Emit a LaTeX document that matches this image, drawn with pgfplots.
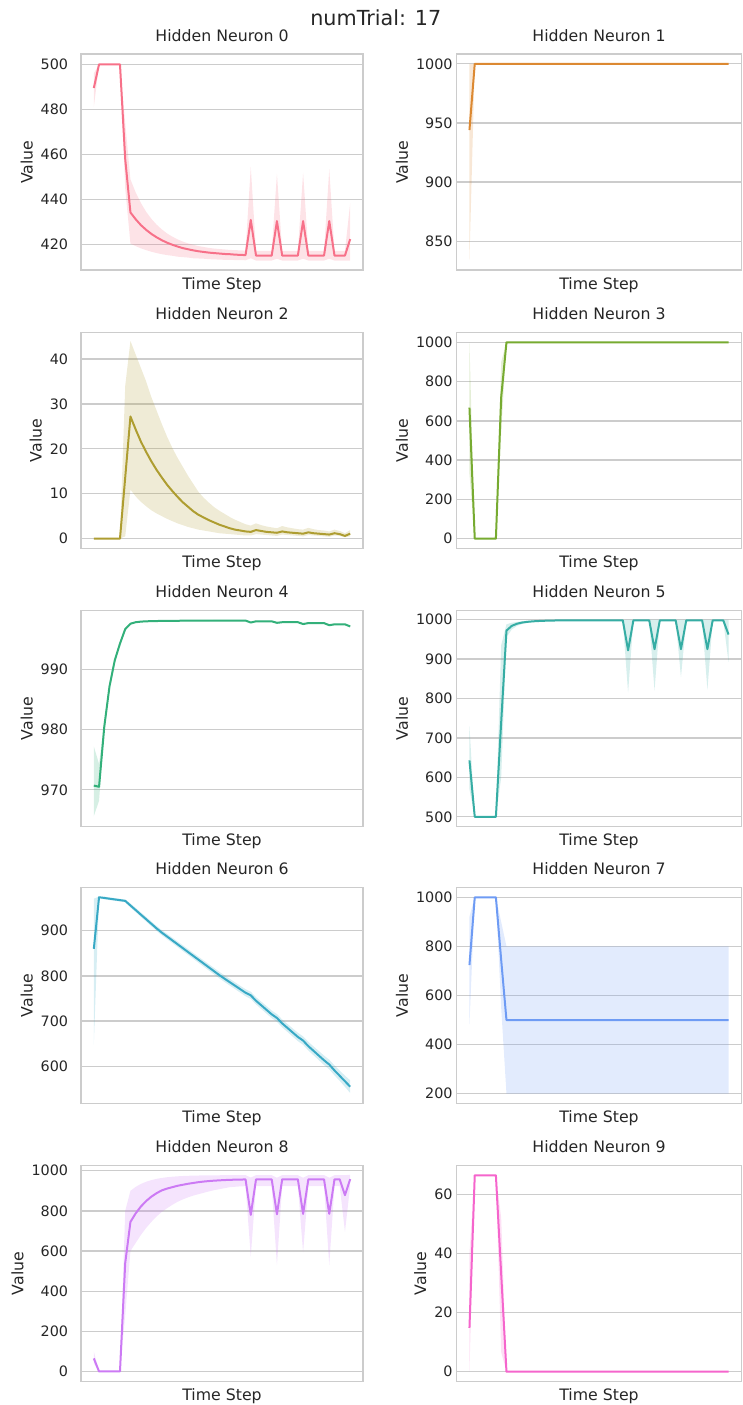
\documentclass[border=0pt]{standalone}
\usepackage{fontspec}
\setmainfont{DejaVu Sans}
\usepackage{pgfplots}
\pgfplotsset{compat=1.18}
\usepgfplotslibrary{fillbetween}
\usepackage{pgfplotstable}

\definecolor{c0}{HTML}{F77189}
\definecolor{c1}{HTML}{DC8932}
\definecolor{c2}{HTML}{AE9D31}
\definecolor{c3}{HTML}{77AB31}
\definecolor{c4}{HTML}{33B07A}
\definecolor{c5}{HTML}{36ADA4}
\definecolor{c6}{HTML}{38A9C5}
\definecolor{c7}{HTML}{6E9BF4}
\definecolor{c8}{HTML}{CC7AF4}
\definecolor{c9}{HTML}{F565CC}
\definecolor{gridc}{HTML}{CCCCCC}
\definecolor{textc}{HTML}{262626}

% Neuron 0
\pgfplotstableread{
x m l u
0 489.5 481 496
1 500 499.8 500
2 500 500 500
3 500 500 500
4 500 500 500
5 500 500 500
6 458 445 474
7 434.3 420.5 449
8 431.3 419.4 443.2
9 428.7 418.4 438.5
10 426.6 417.6 434.6
11 424.8 416.9 431.5
12 423.3 416.3 428.9
13 422.0 415.8 426.8
14 420.9 415.4 425.0
15 420.0 415.1 423.6
16 419.2 414.7 422.4
17 418.5 414.5 421.4
18 418.0 414.3 420.6
19 417.5 414.0 420.0
20 417.1 413.9 419.4
21 416.8 413.8 419.0
22 416.5 413.6 418.6
23 416.3 413.5 418.3
24 416.1 413.4 418.1
25 415.9 413.3 417.9
26 415.8 413.3 417.7
27 415.6 413.2 417.6
28 415.5 413.2 417.5
29 415.4 413.1 417.4
30 431 414 454.5
31 415.2 413 417.3
32 415.2 413 417.3
33 415.2 413 417.3
34 415.2 413 417.3
35 430.5 413.8 451.5
36 415.2 413 417.3
37 415.2 413 417.3
38 415.2 413 417.3
39 415.2 413 417.3
40 430.5 413.8 452
41 415.2 413 417.3
42 415.2 413 417.3
43 415.2 413 417.3
44 415.2 413 417.3
45 430.5 413.8 453.5
46 415.2 413 417.3
47 415.2 413 417.3
48 415.2 413 417.3
49 422.5 413 438.5
}\neurA

% Neuron 1
\pgfplotstableread{
x m l u
0 944 834 1000
1 1000 1000 1000
2 1000 1000 1000
3 1000 1000 1000
4 1000 1000 1000
5 1000 1000 1000
6 1000 1000 1000
7 1000 1000 1000
8 1000 1000 1000
9 1000 1000 1000
10 1000 1000 1000
11 1000 1000 1000
12 1000 1000 1000
13 1000 1000 1000
14 1000 1000 1000
15 1000 1000 1000
16 1000 1000 1000
17 1000 1000 1000
18 1000 1000 1000
19 1000 1000 1000
20 1000 1000 1000
21 1000 1000 1000
22 1000 1000 1000
23 1000 1000 1000
24 1000 1000 1000
25 1000 1000 1000
26 1000 1000 1000
27 1000 1000 1000
28 1000 1000 1000
29 1000 1000 1000
30 1000 1000 1000
31 1000 1000 1000
32 1000 1000 1000
33 1000 1000 1000
34 1000 1000 1000
35 1000 1000 1000
36 1000 1000 1000
37 1000 1000 1000
38 1000 1000 1000
39 1000 1000 1000
40 1000 1000 1000
41 1000 1000 1000
42 1000 1000 1000
43 1000 1000 1000
44 1000 1000 1000
45 1000 1000 1000
46 1000 1000 1000
47 1000 1000 1000
48 1000 1000 1000
49 1000 1000 1000
}\neurB

% Neuron 2
\pgfplotstableread{
x m l u
0 0 0 0
1 0 0 0
2 0 0 0
3 0 0 0
4 0 0 0
5 0 0 0
6 13.6 0.5 34
7 27.2 10.9 44
8 24.3 9.4 41
9 21.6 8.2 38
10 19.3 7.2 35
11 17.2 6.3 31.5
12 15.3 5.6 28.5
13 13.6 5.0 25.5
14 12.0 4.4 22.7
15 10.6 3.9 20.2
16 9.3 3.4 18.0
17 8.1 3.0 16.0
18 7.1 2.6 14.0
19 6.1 2.3 12.2
20 5.3 2.0 10.4
21 4.7 1.8 9.1
22 4.1 1.6 8.0
23 3.6 1.4 7.0
24 3.1 1.2 6.2
25 2.7 1.1 5.5
26 2.3 1.0 4.8
27 2.0 0.9 4.2
28 1.8 0.8 3.7
29 1.6 0.7 3.2
30 1.5 0.7 2.9
31 1.9 1.0 3.4
32 1.7 0.9 3.0
33 1.5 0.8 2.7
34 1.4 0.7 2.5
35 1.3 0.6 2.3
36 1.6 0.9 2.8
37 1.4 0.8 2.5
38 1.3 0.7 2.3
39 1.2 0.6 2.1
40 1.1 0.5 2.0
41 1.4 0.8 2.4
42 1.2 0.7 2.1
43 1.1 0.6 1.9
44 1.0 0.5 1.8
45 0.9 0.4 1.6
46 1.2 0.7 2.0
47 1.0 0.6 1.7
48 0.6 0.3 1.2
49 1.1 0.5 1.9
}\neurC

% Neuron 3
\pgfplotstableread{
x m l u
0 667 330 1000
1 0 0 0
2 0 0 0
3 0 0 0
4 0 0 0
5 0 0 0
6 720 540 900
7 1000 1000 1000
8 1000 1000 1000
9 1000 1000 1000
10 1000 1000 1000
11 1000 1000 1000
12 1000 1000 1000
13 1000 1000 1000
14 1000 1000 1000
15 1000 1000 1000
16 1000 1000 1000
17 1000 1000 1000
18 1000 1000 1000
19 1000 1000 1000
20 1000 1000 1000
21 1000 1000 1000
22 1000 1000 1000
23 1000 1000 1000
24 1000 1000 1000
25 1000 1000 1000
26 1000 1000 1000
27 1000 1000 1000
28 1000 1000 1000
29 1000 1000 1000
30 1000 1000 1000
31 1000 1000 1000
32 1000 1000 1000
33 1000 1000 1000
34 1000 1000 1000
35 1000 1000 1000
36 1000 1000 1000
37 1000 1000 1000
38 1000 1000 1000
39 1000 1000 1000
40 1000 1000 1000
41 1000 1000 1000
42 1000 1000 1000
43 1000 1000 1000
44 1000 1000 1000
45 1000 1000 1000
46 1000 1000 1000
47 1000 1000 1000
48 1000 1000 1000
49 1000 1000 1000
}\neurD

% Neuron 4
\pgfplotstableread{
x m l u
0 970.7 965.6 977.2
1 970.5 968.2 974.3
2 980.5 979.8 981.2
3 987.2 986.6 987.8
4 991.5 991.1 991.9
5 994.3 994.0 994.6
6 996.7 996.5 996.9
7 997.6 997.45 997.75
8 997.85 997.75 997.95
9 997.95 997.85 998.05
10 998.0 997.9 998.1
11 998.03 997.93 998.13
12 998.05 997.95 998.15
13 998.06 997.96 998.16
14 998.07 997.97 998.17
15 998.08 997.98 998.18
16 998.09 997.99 998.19
17 998.1 998.0 998.2
18 998.1 998.0 998.2
19 998.1 998.0 998.2
20 998.11 998.01 998.21
21 998.11 998.01 998.21
22 998.11 998.01 998.21
23 998.12 998.02 998.22
24 998.12 998.02 998.22
25 998.12 998.02 998.22
26 998.12 998.02 998.22
27 998.12 998.02 998.22
28 998.12 998.02 998.22
29 998.12 998.02 998.22
30 997.8 997.65 997.95
31 998.0 997.9 998.1
32 998.0 997.9 998.1
33 998.0 997.9 998.1
34 998.0 997.9 998.1
35 997.75 997.6 997.9
36 997.85 997.75 997.95
37 997.85 997.75 997.95
38 997.85 997.75 997.95
39 997.85 997.75 997.95
40 997.55 997.4 997.7
41 997.7 997.6 997.8
42 997.7 997.6 997.8
43 997.7 997.6 997.8
44 997.7 997.6 997.8
45 997.35 997.2 997.5
46 997.5 997.4 997.6
47 997.5 997.4 997.6
48 997.5 997.4 997.6
49 997.15 997.0 997.3
}\neurE

% Neuron 5
\pgfplotstableread{
x m l u
0 643 570 730
1 500 500 500
2 500 500 500
3 500 500 500
4 500 500 500
5 500 500 500
6 740 600 935
7 972 955 988
8 984 975 992
9 989.5 984 994
10 992.5 989 996
11 994.3 992 997
12 995.5 993.5 997.5
13 996.3 994.5 998
14 996.9 995.3 998.3
15 997.3 996 998.5
16 997.6 996.4 998.7
17 997.8 996.7 998.8
18 997.9 997 998.9
19 998 997.2 999
20 998.1 997.3 999
21 998.1 997.3 999
22 998.1 997.3 999
23 998.1 997.3 999
24 998.1 997.3 999
25 998.1 997.3 999
26 998.1 997.3 999
27 998.1 997.3 999
28 998.1 997.3 999
29 998.1 997.3 999
30 922 815 1000
31 998 996.5 999.5
32 998 996.5 999.5
33 998 996.5 999.5
34 998 996.5 999.5
35 925 820 1000
36 998 996.5 999.5
37 998 996.5 999.5
38 998 996.5 999.5
39 998 996.5 999.5
40 925 854 1000
41 998 996.5 999.5
42 998 996.5 999.5
43 998 996.5 999.5
44 998 996.5 999.5
45 925 822 1000
46 998 996.5 999.5
47 998 996.5 999.5
48 998 996.5 999.5
49 962 892 1000
}\neurF

% Neuron 6
\pgfplotstableread{
x m l u
0 860 648 971
1 974 972.5 975.5
2 972.5 969.5 975.5
3 970.8 967.8 973.8
4 969.2 966.2 972.2
5 967.6 964.6 970.6
6 966.0 963 969
7 955.8 951.3 960.3
8 945.7 941 950.4
9 935.5 930.5 940.5
10 925.4 920.2 930.6
11 915.2 909.9 920.5
12 905.1 899.6 910.6
13 895.7 890 901.4
14 887.2 881.3 893.1
15 878.6 872.6 884.6
16 870.1 864 876.2
17 861.5 855.2 867.8
18 853.0 846.6 859.4
19 844.4 837.9 850.9
20 835.9 829.3 842.5
21 827.4 820.6 834.2
22 818.8 811.9 825.7
23 810.3 803.2 817.4
24 801.7 794.5 808.9
25 793.8 786.5 801.1
26 786.0 778.6 793.4
27 778.3 770.8 785.8
28 770.5 762.9 778.1
29 762.8 755.1 770.5
30 757 749 765
31 745 737 753
32 735 726.8 743.2
33 725 716.7 733.3
34 715 706.6 723.4
35 707 698.5 715.5
36 695 686.3 703.7
37 685 676.2 693.8
38 675 666 684
39 665 655.8 674.2
40 657 647.7 666.3
41 644.6 635 654.2
42 634.2 624.4 644
43 623.8 613.7 633.9
44 613.4 603 623.8
45 604 593.3 614.7
46 591 580 602
47 579 567.7 590.3
48 567 554.5 579.5
49 555 541 569
}\neurG

% Neuron 7
\pgfplotstableread{
x m l u
0 724 482 921
1 1000 1000 1000
2 1000 1000 1000
3 1000 1000 1000
4 1000 1000 1000
5 1000 1000 1000
6 745 550 900
7 500 200 800
8 500 200 800
9 500 200 800
10 500 200 800
11 500 200 800
12 500 200 800
13 500 200 800
14 500 200 800
15 500 200 800
16 500 200 800
17 500 200 800
18 500 200 800
19 500 200 800
20 500 200 800
21 500 200 800
22 500 200 800
23 500 200 800
24 500 200 800
25 500 200 800
26 500 200 800
27 500 200 800
28 500 200 800
29 500 200 800
30 500 200 800
31 500 200 800
32 500 200 800
33 500 200 800
34 500 200 800
35 500 200 800
36 500 200 800
37 500 200 800
38 500 200 800
39 500 200 800
40 500 200 800
41 500 200 800
42 500 200 800
43 500 200 800
44 500 200 800
45 500 200 800
46 500 200 800
47 500 200 800
48 500 200 800
49 500 200 800
}\neurH

% Neuron 8
\pgfplotstableread{
x m l u
0 65 40 100
1 0 0 0
2 0 0 0
3 0 0 0
4 0 0 0
5 0 0 0
6 540 280 800
7 745 600 900
8 787.6 640 919.5
9 821.7 680 934.1
10 849 715 945.1
11 870.8 745 953.3
12 888.2 772 959.5
13 902.2 795 964.1
14 911 813 967.6
15 918 830 970.2
16 925 845 972.1
17 930 857 973.6
18 935 867 974.7
19 939 876 975.5
20 943 883 976.1
21 946 890 976.6
22 948.5 897 977
23 950.5 903 977.2
24 952 908 977.4
25 953.5 913 977.6
26 954.5 918 977.7
27 955.5 920 977.8
28 956 922 977.9
29 956.5 923 978
30 780 573 966
31 957 923 978
32 957 923 978
33 957 923 978
34 957 923 978
35 783 529 965
36 957 923 978
37 957 923 978
38 957 923 978
39 957 923 978
40 785 592 965
41 957 923 978
42 957 923 978
43 957 923 978
44 957 923 978
45 785 530 965
46 957 923 978
47 957 923 978
48 878 695 978
49 958 925 980
}\neurI

% Neuron 9
\pgfplotstableread{
x m l u
0 14.8 0 40
1 66.4 66.3 66.5
2 66.4 66.3 66.5
3 66.4 66.3 66.5
4 66.4 66.3 66.5
5 66.4 66.3 66.5
6 33 6.6 52
7 0 0 0
8 0 0 0
9 0 0 0
10 0 0 0
11 0 0 0
12 0 0 0
13 0 0 0
14 0 0 0
15 0 0 0
16 0 0 0
17 0 0 0
18 0 0 0
19 0 0 0
20 0 0 0
21 0 0 0
22 0 0 0
23 0 0 0
24 0 0 0
25 0 0 0
26 0 0 0
27 0 0 0
28 0 0 0
29 0 0 0
30 0 0 0
31 0 0 0
32 0 0 0
33 0 0 0
34 0 0 0
35 0 0 0
36 0 0 0
37 0 0 0
38 0 0 0
39 0 0 0
40 0 0 0
41 0 0 0
42 0 0 0
43 0 0 0
44 0 0 0
45 0 0 0
46 0 0 0
47 0 0 0
48 0 0 0
49 0 0 0
}\neurJ

\pgfplotsset{
  neuron/.style={
    scale only axis, height=216bp, anchor=south west,
    xmin=-2.45, xmax=51.45, xtick=\empty,
    ymajorgrids, grid style={color=gridc, line width=1.3bp},
    axis line style={color=gridc, line width=1.65bp},
    major tick length=0pt,
    tick label style={font=\fontsize{14.4}{16}\selectfont, text=textc},
    /pgf/number format/assume math mode=true,
    /pgf/number format/1000 sep={},
    label style={font=\fontsize{15.8}{18}\selectfont, text=textc},
    title style={font=\fontsize{15.8}{18}\selectfont, text=textc,
      at={(0.5,1)}, anchor=base, yshift=6.7bp, inner sep=0pt},
    xlabel={Time Step}, ylabel={Value},
    xlabel style={at={(0.5,0)}, anchor=base, yshift=-19.3bp, inner sep=0pt},
    ylabel style={inner sep=0pt, yshift=7.7bp},
  },
  leftcol/.style={neuron, width=282bp, yticklabel style={inner sep=0pt, xshift=-12.7bp}},
  rightcol/.style={neuron, width=285bp, yticklabel style={inner sep=0pt, xshift=-3.7bp}},
}

\newcommand{\band}[3]{%
  \addplot[draw=none, name path=#3up, forget plot] table[x=x,y=u]{#1};
  \addplot[draw=none, name path=#3lo, forget plot] table[x=x,y=l]{#1};
  \addplot[fill=#2, fill opacity=0.2, draw=none, forget plot] fill between[of=#3up and #3lo];
  \addplot[#2, line width=2bp, line join=round] table[x=x,y=m]{#1};
}

\begin{document}
\begin{tikzpicture}
\node[anchor=base, font=\fontsize{20.8}{24}\selectfont, text=textc, inner sep=0pt] at (375.8bp,1379bp) {numTrial: 17};

\begin{axis}[leftcol, at={(81bp,1135bp)}, title={Hidden Neuron 0},
  ymin=408.8, ymax=504.6, ytick={420,440,460,480,500}]
\band{\neurA}{c0}{bandA}
\end{axis}

\begin{axis}[rightcol, at={(456.5bp,1135bp)}, title={Hidden Neuron 1},
  ymin=825.7, ymax=1008.3, ytick={850,900,950,1000}]
\band{\neurB}{c1}{bandB}
\end{axis}

\begin{axis}[leftcol, at={(81bp,856.5bp)}, title={Hidden Neuron 2},
  ymin=-2.2, ymax=45.9, ytick={0,10,20,30,40}]
\band{\neurC}{c2}{bandC}
\end{axis}

\begin{axis}[rightcol, at={(456.5bp,856.5bp)}, title={Hidden Neuron 3},
  ymin=-50, ymax=1050, ytick={0,200,400,600,800,1000}]
\band{\neurD}{c3}{bandD}
\end{axis}

\begin{axis}[leftcol, at={(81bp,578.5bp)}, title={Hidden Neuron 4},
  ymin=963.9, ymax=999.8, ytick={970,980,990}]
\band{\neurE}{c4}{bandE}
\end{axis}

\begin{axis}[rightcol, at={(456.5bp,578.5bp)}, title={Hidden Neuron 5},
  ymin=475.5, ymax=1023, ytick={500,600,700,800,900,1000}]
\band{\neurF}{c5}{bandF}
\end{axis}

\begin{axis}[leftcol, at={(81bp,301.5bp)}, title={Hidden Neuron 6},
  ymin=517.8, ymax=995.6, ytick={600,700,800,900}]
\band{\neurG}{c6}{bandG}
\end{axis}

\begin{axis}[rightcol, at={(456.5bp,301.5bp)}, title={Hidden Neuron 7},
  ymin=160, ymax=1040, ytick={200,400,600,800,1000}]
\band{\neurH}{c7}{bandH}
\end{axis}

\begin{axis}[leftcol, at={(81bp,23.5bp)}, title={Hidden Neuron 8},
  ymin=-50, ymax=1026, ytick={0,200,400,600,800,1000}]
\band{\neurI}{c8}{bandI}
\end{axis}

\begin{axis}[rightcol, at={(456.5bp,23.5bp)}, title={Hidden Neuron 9},
  ymin=-3.3, ymax=69.7, ytick={0,20,40,60}]
\band{\neurJ}{c9}{bandJ}
\end{axis}
\pgfresetboundingbox
\path[use as bounding box] (0,0) rectangle (743bp,1405bp);
\end{tikzpicture}
\end{document}
